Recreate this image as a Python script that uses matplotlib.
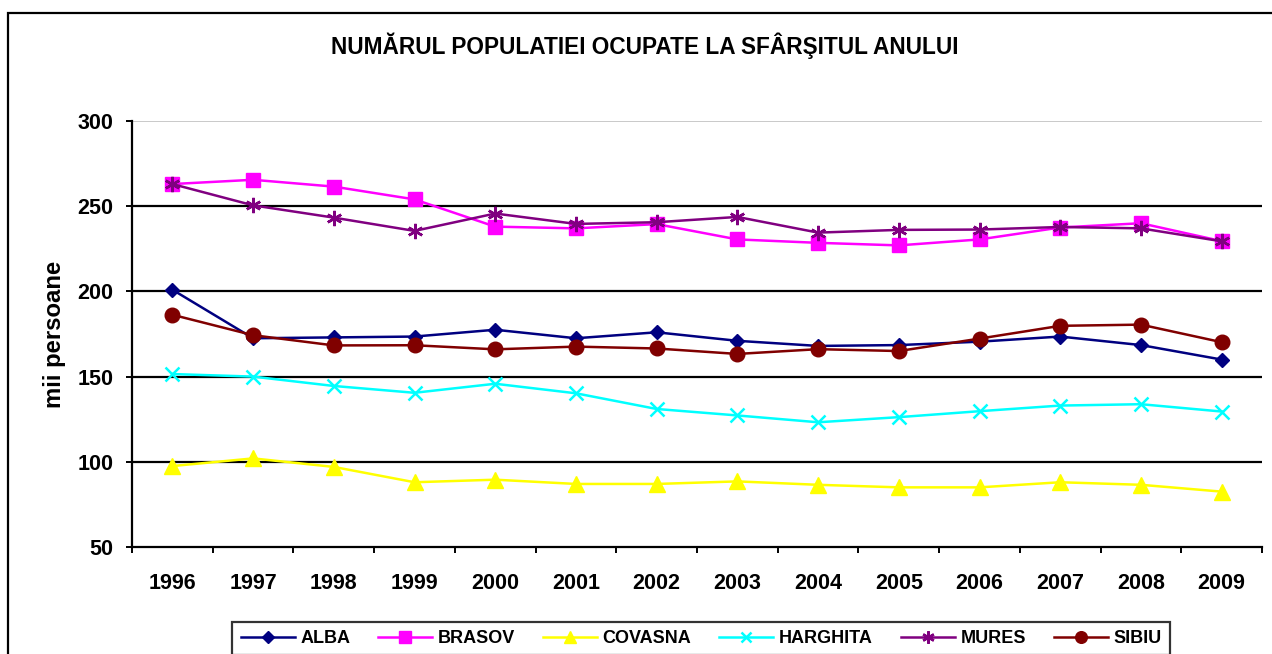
import matplotlib
matplotlib.use("Agg")
import matplotlib.pyplot as plt
from matplotlib.patches import Rectangle

plt.rcParams['font.family'] = ['Liberation Sans', 'DejaVu Sans']
plt.rcParams['font.weight'] = 'bold'

years = ['1996', '1997', '1998', '1999', '2000', '2001', '2002',
         '2003', '2004', '2005', '2006', '2007', '2008', '2009']
ALBA = [201, 172.5, 173, 173.5, 177.5, 172.5, 176, 171, 168, 168.5, 170.5, 173.5, 168.5, 160]
BRASOV = [263, 265.5, 261.5, 254, 238, 237, 239.5, 230.5, 228.5, 227, 230.5, 237.5, 240, 229.5]
COVASNA = [97.5, 102, 97, 88, 89.5, 87, 87, 88.5, 86.5, 85, 85, 88, 86.5, 82.5]
HARGHITA = [151.5, 150, 144.5, 140.5, 145.8, 140.2, 131, 127.2, 123.2, 126.2, 129.7, 133, 133.8, 129.5]
MURES = [263, 250.5, 243.3, 235.5, 245.7, 239.6, 240.6, 243.7, 234.5, 236.1, 236.3, 237.8, 237, 229.4]
SIBIU = [186.3, 174.3, 168.3, 168.4, 166, 167.6, 166.5, 163.3, 166.1, 165, 172.3, 179.8, 180.5, 170.2]

series = [
    ('ALBA', ALBA, '#000080', 'D', 7.5),
    ('BRASOV', BRASOV, '#FF00FF', 's', 10.5),
    ('COVASNA', COVASNA, '#FFFF00', '^', 11),
    ('HARGHITA', HARGHITA, '#00FFFF', 'x', 9.5),
    ('MURES', MURES, '#800080', (6, 2, 0), 11),
    ('SIBIU', SIBIU, '#800000', 'o', 10.5),
]

fig = plt.figure(figsize=(12.72, 6.54), dpi=100)
W, H = 1272, 654
ax = fig.add_axes([132 / W, 1 - 547 / H, (1262 - 132) / W, (547 - 121) / H])

x = list(range(len(years)))
for name, vals, col, mk, ms in series:
    ax.plot(x, vals, color=col, lw=1.8, marker=mk, ms=ms,
            markerfacecolor=col, markeredgecolor=col,
            markeredgewidth=1.8 if mk in ('x',) or isinstance(mk, tuple) else 1.0,
            label=name, clip_on=False, zorder=3)

ax.set_xlim(-0.5, len(years) - 0.5)
ax.set_ylim(50, 300)
ax.set_yticks([50, 100, 150, 200, 250, 300])
for yv in [100, 150, 200, 250]:
    ax.axhline(yv, color='black', lw=1.6, zorder=1)
ax.axhline(300, color='#c0c0c0', lw=1.2, zorder=1)

for s in ['top', 'right']:
    ax.spines[s].set_visible(False)
ax.spines['left'].set_linewidth(1.6)
ax.spines['bottom'].set_linewidth(1.6)

ax.set_xticks(x)
ax.set_xticklabels(years)
ax.set_xticks([i - 0.5 for i in range(len(years) + 1)], minor=True)
ax.tick_params(axis='x', which='major', length=0, pad=19, labelsize=15.5)
ax.tick_params(axis='x', which='minor', length=4.5, width=1.4, direction='out')
ax.tick_params(axis='y', which='major', length=4.5, width=1.4, direction='out',
               pad=9, labelsize=15.5)
for lbl in ax.get_xticklabels() + ax.get_yticklabels():
    lbl.set_fontweight('bold')

fig.text(55 / W, 1 - 334 / H, 'mii persoane', rotation=90, ha='center', va='center',
         fontsize=17.2, fontweight='bold')
fig.text(645 / W, 1 - 46 / H, 'NUMĂRUL POPULATIEI OCUPATE LA SFÂRŞITUL ANULUI',
         ha='center', va='center', fontsize=16.3, fontweight='bold')

leg = fig.legend(loc='upper center', bbox_to_anchor=(701 / W, 1 - 622 / H),
                 ncol=6, frameon=True, fancybox=False,
                 handlelength=3.0, handletextpad=0.3, columnspacing=1.55,
                 borderpad=0.45, borderaxespad=0,
                 prop={'weight': 'bold', 'size': 13})
leg.get_frame().set_edgecolor('black')
leg.get_frame().set_linewidth(1.6)
for h in leg.legend_handles:
    h.set_markersize(h.get_markersize() * 0.8)

fig.patches.append(Rectangle((8 / W, -0.1), 1.2, 1 - 13 / H + 0.1,
                             transform=fig.transFigure, fill=False,
                             edgecolor='black', lw=1.6))

fig.savefig('out.png', dpi=100)
